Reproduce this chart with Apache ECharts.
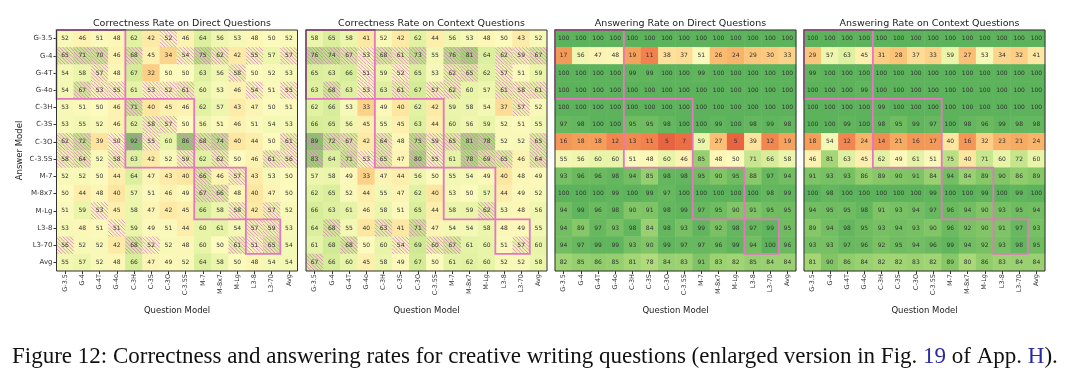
<!DOCTYPE html>
<html>
<head>
<meta charset="utf-8">
<script src="https://cdn.jsdelivr.net/npm/echarts@6/dist/echarts.min.js"></script>
<style>
  html, body { margin: 0; padding: 0; background: #fff; }
  #chart { width: 1080px; height: 375px; }
</style>
</head>
<body>
<div id="chart"></div>
<script>
// 行列标签（答题模型 / 出题模型）
const models = ['G-3.5', 'G-4', 'G-4T', 'G-4o', 'C-3H', 'C-3S', 'C-3O', 'C-3.5S', 'M-7', 'M-8x7', 'M-Lg', 'L3-8', 'L3-70', 'Avg'];

const titles = [
  'Correctness Rate on Direct Questions',
  'Correctness Rate on Context Questions',
  'Answering Rate on Direct Questions',
  'Answering Rate on Context Questions'
];

// 模型家族对角块 [起, 止]
const familyBlocks = [[0, 3], [4, 7], [8, 10], [11, 12]];

const corrDirect = [
  [52, 46, 51, 48, 62, 42, 52, 46, 64, 56, 53, 48, 50, 52],
  [65, 71, 70, 46, 68, 45, 34, 54, 75, 62, 42, 55, 57, 57],
  [54, 58, 57, 48, 67, 32, 50, 50, 63, 56, 58, 50, 52, 53],
  [54, 67, 53, 55, 61, 53, 52, 61, 60, 53, 46, 54, 51, 55],
  [53, 51, 50, 46, 71, 40, 45, 46, 62, 57, 43, 47, 50, 51],
  [53, 55, 52, 46, 62, 58, 57, 50, 56, 51, 46, 51, 54, 53],
  [62, 72, 39, 50, 92, 55, 60, 86, 68, 74, 40, 44, 50, 61],
  [58, 64, 52, 58, 63, 42, 52, 59, 62, 62, 50, 46, 61, 56],
  [52, 52, 50, 44, 64, 47, 43, 40, 66, 46, 57, 43, 53, 50],
  [50, 44, 48, 40, 57, 51, 46, 49, 67, 66, 48, 40, 47, 50],
  [51, 59, 53, 45, 58, 47, 42, 45, 66, 58, 58, 42, 57, 52],
  [53, 48, 51, 51, 59, 49, 51, 44, 60, 61, 54, 57, 59, 53],
  [56, 52, 52, 42, 68, 52, 52, 48, 60, 50, 61, 51, 65, 54],
  [55, 57, 52, 48, 66, 47, 49, 52, 64, 58, 50, 48, 54, 54]
];

const corrContext = [
  [58, 65, 58, 41, 52, 42, 62, 44, 56, 53, 48, 50, 43, 52],
  [76, 74, 67, 53, 68, 61, 73, 55, 76, 81, 64, 62, 59, 67],
  [65, 63, 66, 51, 59, 52, 65, 53, 62, 65, 62, 57, 51, 59],
  [63, 68, 63, 53, 63, 61, 67, 57, 62, 60, 57, 61, 58, 61],
  [62, 66, 53, 33, 49, 40, 62, 42, 59, 58, 54, 37, 57, 52],
  [66, 65, 56, 45, 55, 45, 63, 44, 60, 56, 59, 52, 51, 55],
  [89, 72, 67, 42, 64, 48, 75, 59, 65, 81, 78, 52, 52, 65],
  [83, 64, 71, 53, 65, 47, 80, 55, 61, 78, 69, 65, 46, 64],
  [57, 58, 49, 33, 47, 44, 56, 50, 55, 54, 49, 40, 48, 49],
  [62, 65, 52, 44, 55, 47, 62, 40, 53, 50, 57, 44, 49, 52],
  [66, 63, 61, 46, 58, 51, 65, 44, 58, 59, 62, 53, 48, 56],
  [64, 68, 55, 40, 63, 41, 71, 47, 54, 54, 58, 48, 49, 55],
  [61, 68, 68, 50, 60, 54, 69, 60, 67, 61, 60, 51, 57, 60],
  [67, 66, 60, 45, 58, 49, 67, 50, 61, 62, 60, 52, 52, 58]
];

const ansDirect = [
  [100, 100, 100, 100, 100, 100, 100, 100, 100, 100, 100, 100, 100, 100],
  [17, 56, 47, 48, 19, 11, 38, 37, 51, 26, 24, 29, 30, 33],
  [100, 100, 100, 100, 99, 99, 100, 100, 99, 100, 100, 100, 100, 100],
  [100, 100, 100, 100, 100, 100, 100, 100, 100, 100, 100, 100, 100, 100],
  [100, 100, 100, 100, 100, 100, 100, 100, 100, 100, 100, 100, 100, 100],
  [97, 98, 100, 100, 95, 95, 98, 100, 100, 99, 100, 98, 99, 98],
  [16, 18, 18, 12, 13, 11, 5, 7, 59, 27, 5, 39, 12, 19],
  [55, 56, 60, 60, 51, 48, 60, 46, 85, 48, 50, 71, 66, 58],
  [93, 96, 96, 98, 94, 85, 98, 98, 95, 90, 95, 88, 97, 94],
  [100, 100, 100, 99, 100, 99, 97, 100, 100, 100, 100, 100, 98, 99],
  [94, 99, 96, 98, 90, 91, 98, 99, 97, 95, 90, 91, 95, 95],
  [94, 89, 97, 93, 98, 84, 98, 93, 99, 92, 98, 97, 99, 95],
  [94, 97, 99, 99, 93, 90, 99, 97, 97, 96, 99, 94, 100, 96],
  [82, 85, 86, 85, 81, 78, 84, 83, 91, 83, 82, 85, 84, 84]
];

const ansContext = [
  [100, 100, 100, 100, 100, 100, 100, 100, 100, 100, 100, 100, 100, 100],
  [29, 57, 63, 45, 31, 28, 37, 33, 59, 27, 53, 34, 32, 41],
  [99, 100, 100, 100, 100, 100, 100, 100, 100, 100, 100, 100, 100, 100],
  [100, 100, 100, 99, 100, 100, 100, 100, 100, 100, 100, 100, 100, 100],
  [100, 100, 100, 100, 99, 100, 100, 100, 100, 100, 100, 100, 100, 100],
  [100, 100, 99, 100, 98, 95, 99, 97, 100, 98, 96, 99, 98, 98],
  [18, 54, 12, 24, 14, 21, 16, 17, 40, 16, 32, 23, 21, 24],
  [46, 81, 63, 45, 62, 49, 61, 51, 75, 40, 71, 60, 72, 60],
  [91, 93, 93, 86, 89, 90, 91, 84, 94, 84, 89, 90, 86, 89],
  [100, 98, 100, 100, 100, 100, 100, 99, 100, 100, 99, 100, 99, 100],
  [94, 95, 95, 98, 91, 93, 94, 97, 96, 94, 90, 93, 95, 94],
  [89, 94, 98, 95, 93, 94, 93, 90, 96, 92, 90, 91, 97, 93],
  [93, 93, 97, 96, 92, 95, 94, 96, 99, 94, 92, 93, 98, 95],
  [81, 90, 86, 84, 82, 82, 83, 82, 89, 80, 86, 83, 84, 84]
];

// 斜线填充标记（1 = 有斜线）
const hatchDirect = [
  '00000010000000',
  '11101001110101',
  '00100000001000',
  '01110111000101',
  '00001000000000',
  '00000110000000',
  '11011101110001',
  '11010001010011',
  '00000000101000',
  '00000000110000',
  '00100000001010',
  '00010000000110',
  '10001100001110',
  '00000000000000'
];

const hatchContext = [
  '00000000000000',
  '11111110110111',
  '00010100110100',
  '01010101100111',
  '00000000000010',
  '00000000000000',
  '11101011111001',
  '10111011011101',
  '00000000000000',
  '00000000000000',
  '00000000001000',
  '01001010000000',
  '00100101100010',
  '10000000000000'
];

const panels = [
  { values: corrDirect, hatch: hatchDirect },
  { values: corrContext, hatch: hatchContext },
  { values: ansDirect, hatch: null },
  { values: ansContext, hatch: null }
];

const gridLefts = [56.5, 306, 555, 804];
const gridTop = 30;
const gridSize = 241;
const font = 'DejaVu Sans';
const hatchStep = 3.6;

// 单元格内的 "/" 斜线
function hatchLines(x0, y0, w, h) {
  const out = [];
  for (let k = hatchStep / 2; k < w + h; k += hatchStep) {
    const up1 = Math.max(0, k - w), dx1 = k - up1;
    const dx2 = Math.max(0, k - h), up2 = k - dx2;
    out.push({
      type: 'line',
      shape: { x1: x0 + dx1, y1: y0 + h - up1, x2: x0 + dx2, y2: y0 + h - up2 },
      style: { stroke: 'rgba(226, 110, 205, 0.85)', lineWidth: 0.9 }
    });
  }
  return out;
}

const chart = echarts.init(document.getElementById('chart'));

const grids = [], xAxes = [], yAxes = [], series = [], titleList = [];
const heatmapIdx = [];

panels.forEach((p, i) => {
  grids.push({ left: gridLefts[i], top: gridTop, width: gridSize, height: gridSize });
  titleList.push({
    text: titles[i],
    left: gridLefts[i] + gridSize / 2,
    textAlign: 'center',
    top: 14,
    textStyle: { fontFamily: font, fontSize: 9.5, fontWeight: 'normal', color: '#222' }
  });
  xAxes.push({
    gridIndex: i,
    type: 'category',
    data: models,
    axisLine: { show: false },
    axisTick: { show: true, alignWithLabel: true, length: 3, lineStyle: { color: '#333' } },
    axisLabel: { rotate: 90, fontSize: 6.5, color: '#333', margin: 3, fontFamily: font, interval: 0 },
    splitLine: { show: false },
    name: 'Question Model',
    nameLocation: 'middle',
    nameGap: 35,
    nameTextStyle: { fontFamily: font, fontSize: 8.5, color: '#222' }
  });
  yAxes.push({
    gridIndex: i,
    type: 'category',
    data: models,
    inverse: true,
    axisLine: { show: false },
    axisTick: { show: i === 0, alignWithLabel: true, length: 3, lineStyle: { color: '#333' } },
    axisLabel: { show: i === 0, fontSize: 7, color: '#333', margin: 4, fontFamily: font, interval: 0 },
    splitLine: { show: false },
    name: i === 0 ? 'Answer Model' : '',
    nameLocation: 'middle',
    nameGap: 32,
    nameRotate: 90,
    nameTextStyle: { fontFamily: font, fontSize: 8.5, color: '#222' }
  });

  const heat = [], cells = [];
  p.values.forEach((row, r) => {
    row.forEach((v, c) => {
      heat.push([c, r, v]);
      cells.push([c, r, v, p.hatch ? Number(p.hatch[r][c]) : 0]);
    });
  });

  heatmapIdx.push(series.length);
  series.push({
    type: 'heatmap',
    xAxisIndex: i,
    yAxisIndex: i,
    data: heat,
    itemStyle: { borderWidth: 0 },
    emphasis: { disabled: true },
    z: 1
  });

  // 斜线 + 数字
  series.push({
    type: 'custom',
    xAxisIndex: i,
    yAxisIndex: i,
    data: cells,
    z: 3,
    silent: true,
    renderItem: function (params, api) {
      const pt = api.coord([api.value(0), api.value(1)]);
      const s = api.size([1, 1]);
      let children = [];
      if (api.value(3)) {
        children = hatchLines(pt[0] - s[0] / 2, pt[1] - s[1] / 2, s[0], s[1]);
      }
      children.push({
        type: 'text',
        x: pt[0],
        y: pt[1],
        style: {
          text: String(api.value(2)),
          fill: '#333',
          fontSize: 6,
          fontFamily: font,
          align: 'center',
          verticalAlign: 'middle'
        }
      });
      return { type: 'group', children: children };
    }
  });

  // 家族对角框
  series.push({
    type: 'custom',
    xAxisIndex: i,
    yAxisIndex: i,
    data: familyBlocks,
    z: 4,
    silent: true,
    renderItem: function (params, api) {
      const a = api.coord([api.value(0), api.value(0)]);
      const b = api.coord([api.value(1), api.value(1)]);
      const s = api.size([1, 1]);
      return {
        type: 'rect',
        shape: { x: a[0] - s[0] / 2, y: a[1] - s[1] / 2, width: b[0] - a[0] + s[0], height: b[1] - a[1] + s[1] },
        style: { fill: 'none', stroke: '#e377c2', lineWidth: 1.8 }
      };
    }
  });

  // 外框
  series.push({
    type: 'custom',
    xAxisIndex: i,
    yAxisIndex: i,
    data: [[0, 0]],
    z: 5,
    silent: true,
    renderItem: function (params) {
      const c = params.coordSys;
      return {
        type: 'rect',
        shape: { x: c.x, y: c.y, width: c.width, height: c.height },
        style: { fill: 'none', stroke: '#333', lineWidth: 1 }
      };
    }
  });
});

// 图注
titleList.push({
  text: 'Figure 12: Correctness and answering rates for creative writing questions (enlarged version in Fig. {b|19} of App. {b|H}).',
  left: 7,
  top: 340,
  textStyle: {
    fontFamily: 'Liberation Serif',
    fontSize: 23,
    fontWeight: 'normal',
    color: '#111',
    rich: { b: { fontFamily: 'Liberation Serif', fontSize: 23, color: '#2a2aa8' } }
  }
});

const option = {
  backgroundColor: '#fff',
  animation: false,
  title: titleList,
  grid: grids,
  xAxis: xAxes,
  yAxis: yAxes,
  visualMap: {
    show: false,
    seriesIndex: heatmapIdx,
    min: 0,
    max: 100,
    inRange: {
      color: ['#e04a35', '#f07e4c', '#f6a65e', '#fcc97e', '#fde6a0', '#fcfabd', '#e8f4a8', '#cbe890', '#a8d878', '#82c566', '#5cb35c']
    }
  },
  series: series
};

chart.setOption(option);
</script>
</body>
</html>
